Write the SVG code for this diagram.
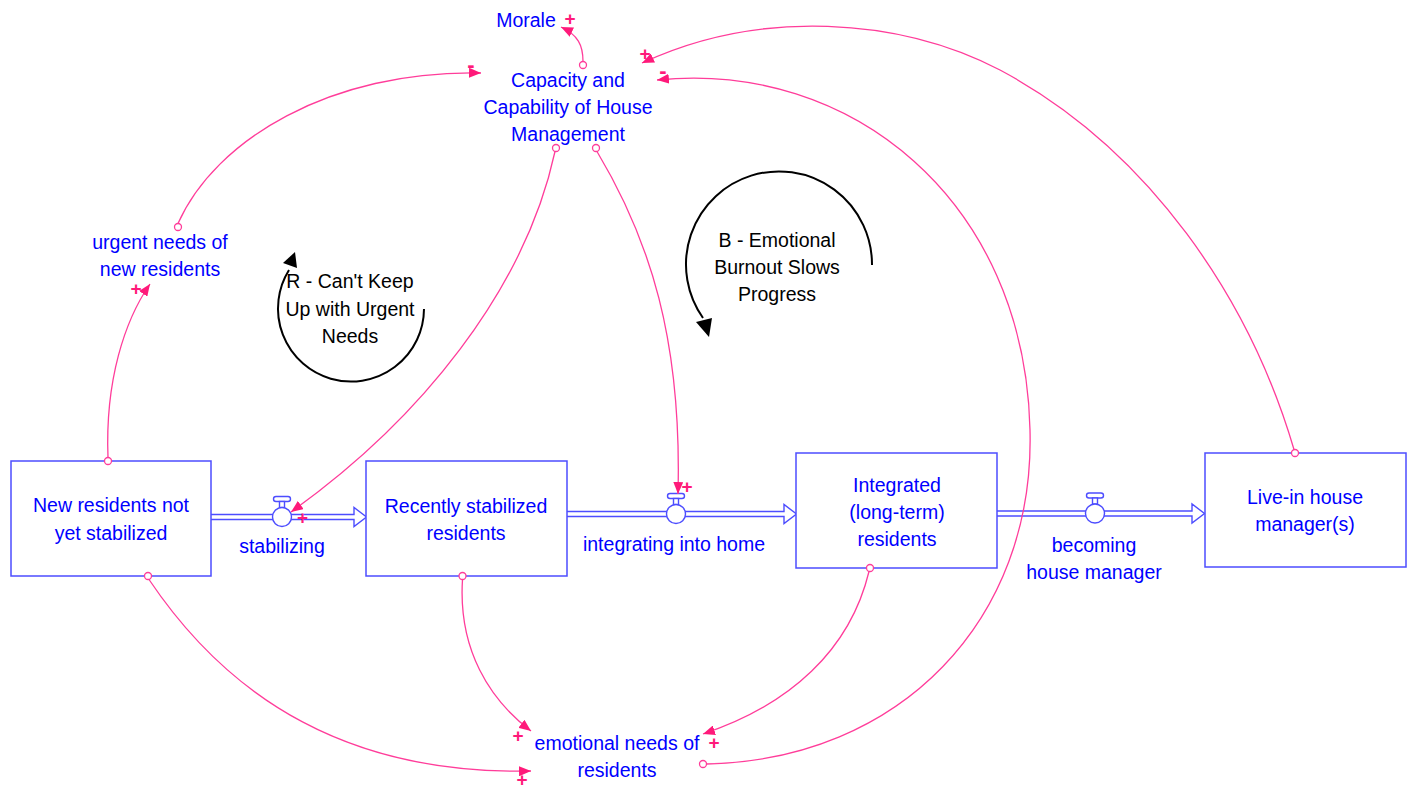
<svg xmlns="http://www.w3.org/2000/svg" xmlns:xlink="http://www.w3.org/1999/xlink" width="1412" height="788" viewBox="0 0 1412 788">
  <style>
    .lbl { font-family: "Liberation Sans", Arial, sans-serif; font-size: 19.5px; fill: #0000ff; text-anchor: middle; }
    .loop { font-family: "Liberation Sans", Arial, sans-serif; font-size: 19.5px; fill: #000000; text-anchor: middle; }
    .pol { font-family: "Liberation Sans", Arial, sans-serif; font-size: 19px; font-weight: bold; fill: #ff1a7a; text-anchor: middle; }
    .neg { font-size: 22px; }
    .stock { fill: #ffffff; stroke: #4d4dff; stroke-width: 1.5; }
    .pipe { fill: #ffffff; stroke: #4d4dff; stroke-width: 1.4; }
    .link { fill: none; stroke: #ff3d9a; stroke-width: 1.3; marker-end: url(#arrow); }
    .origin { fill: #ffffff; stroke: #ff3d9a; stroke-width: 1.3; }
    .loopArc { fill: none; stroke: #000000; stroke-width: 2; }
  </style>
  <defs>
    <marker id="arrow" viewBox="0 0 12 10" refX="12" refY="5" markerWidth="12" markerHeight="10" markerUnits="userSpaceOnUse" orient="auto">
      <path d="M0,0 L12,5 L0,10 z" fill="#ff1a7a"/>
    </marker>
    <!-- flow valve: circle centred on the pipe with a handle on top -->
    <g id="valve">
      <rect x="-8.5" y="-20.5" width="17" height="5" rx="2.5" fill="#ffffff" stroke="#4d4dff" stroke-width="1.4"/>
      <rect x="-2.5" y="-15.5" width="5" height="6" fill="#ffffff" stroke="#4d4dff" stroke-width="1.4"/>
      <circle cx="0" cy="0" r="9.5" fill="#ffffff" stroke="#4d4dff" stroke-width="1.4"/>
    </g>
  </defs>

  <rect width="1412" height="788" fill="#ffffff"/>

  <!-- flows (pipes with valves) -->
  <g id="flow-stabilizing">
    <path class="pipe" d="M211,514.5 H354 V507.5 L366.5,517 L354,526.5 V519.5 H211"/>
    <use xlink:href="#valve" x="282" y="517"/>
    <text class="lbl" x="282" y="553">stabilizing</text>
  </g>
  <g id="flow-integrating">
    <path class="pipe" d="M567,511.5 H784 V504.5 L796.5,514 L784,523.5 V516.5 H567"/>
    <use xlink:href="#valve" x="676" y="514"/>
    <text class="lbl" x="674" y="551">integrating into home</text>
  </g>
  <g id="flow-becoming">
    <path class="pipe" d="M997,511 H1192 V504 L1204.5,513.5 L1192,523 V516 H997"/>
    <use xlink:href="#valve" x="1095" y="513.5"/>
    <text class="lbl" x="1094" y="552">becoming</text>
    <text class="lbl" x="1094" y="579">house manager</text>
  </g>

  <!-- stocks -->
  <g id="stock-new">
    <rect class="stock" x="11" y="461" width="200" height="115"/>
    <text class="lbl" x="111" y="512">New residents not</text>
    <text class="lbl" x="111" y="540">yet stabilized</text>
  </g>
  <g id="stock-recent">
    <rect class="stock" x="366" y="461" width="201" height="115"/>
    <text class="lbl" x="466" y="513">Recently stabilized</text>
    <text class="lbl" x="466" y="540">residents</text>
  </g>
  <g id="stock-integrated">
    <rect class="stock" x="796" y="453" width="201" height="115"/>
    <text class="lbl" x="897" y="492">Integrated</text>
    <text class="lbl" x="897" y="519">(long-term)</text>
    <text class="lbl" x="897" y="546">residents</text>
  </g>
  <g id="stock-livein">
    <rect class="stock" x="1205" y="453" width="201" height="114"/>
    <text class="lbl" x="1305" y="504">Live-in house</text>
    <text class="lbl" x="1305" y="531">manager(s)</text>
  </g>

  <!-- auxiliary variables -->
  <g id="var-morale">
    <text class="lbl" x="526" y="27">Morale</text>
  </g>
  <g id="var-capacity">
    <text class="lbl" x="568" y="87">Capacity and</text>
    <text class="lbl" x="568" y="114">Capability of House</text>
    <text class="lbl" x="568" y="141">Management</text>
  </g>
  <g id="var-urgent">
    <text class="lbl" x="160" y="249">urgent needs of</text>
    <text class="lbl" x="160" y="276">new residents</text>
  </g>
  <g id="var-emotional">
    <text class="lbl" x="617" y="750">emotional needs of</text>
    <text class="lbl" x="617" y="777">residents</text>
  </g>

  <!-- loop markers -->
  <g id="loop-R">
    <path class="loopArc" d="M424,309 A73,73 0 1 1 289,270"/>
    <polygon points="295,252 283,263 297,268" fill="#000000"/>
    <text class="loop" x="350" y="288">R - Can't Keep</text>
    <text class="loop" x="350" y="316">Up with Urgent</text>
    <text class="loop" x="350" y="343">Needs</text>
  </g>
  <g id="loop-B">
    <path class="loopArc" d="M872,265 A93,93 0 1 0 703,318"/>
    <polygon points="709,337 696,322 712,318" fill="#000000"/>
    <text class="loop" x="777" y="247">B - Emotional</text>
    <text class="loop" x="777" y="274">Burnout Slows</text>
    <text class="loop" x="777" y="301">Progress</text>
  </g>

  <!-- causal links -->
  <g id="connectors">
    <path class="link" d="M583,61.5 C583,45 578,35 561,27"/>
    <path class="link" d="M178,223.5 C215,140 330,70 481,73"/>
    <path class="link" d="M108,457.5 C105,380 125,320 150,284"/>
    <path class="link" d="M555,151.5 C525,290 420,420 291,512"/>
    <path class="link" d="M597,151.5 C650,240 682,340 678,494"/>
    <path class="link" d="M1294,449.5 C1250,300 1150,150 1000,70 C900,18 760,8 642,63"/>
    <path class="link" d="M706.5,764 C900,760 1035,620 1030,430 C1025,200 850,60 657,80"/>
    <path class="link" d="M462.5,579.5 C458,650 490,700 531,731"/>
    <path class="link" d="M869,571.5 C850,650 790,705 703,734"/>
    <path class="link" d="M149,579.5 C230,700 350,775 531,771"/>

    <circle class="origin" cx="583" cy="65" r="3.5"/>
    <circle class="origin" cx="178" cy="227" r="3.5"/>
    <circle class="origin" cx="108" cy="461" r="3.5"/>
    <circle class="origin" cx="556" cy="148" r="3.5"/>
    <circle class="origin" cx="596" cy="148" r="3.5"/>
    <circle class="origin" cx="1295" cy="453" r="3.5"/>
    <circle class="origin" cx="703" cy="764" r="3.5"/>
    <circle class="origin" cx="462.5" cy="576" r="3.5"/>
    <circle class="origin" cx="870" cy="568" r="3.5"/>
    <circle class="origin" cx="148" cy="576" r="3.5"/>

    <!-- polarities -->
    <text class="pol" x="570" y="25">+</text>
    <text class="pol neg" x="471" y="72">-</text>
    <text class="pol" x="645" y="59.5">+</text>
    <text class="pol neg" x="663" y="78">-</text>
    <text class="pol" x="136" y="295">+</text>
    <text class="pol" x="302.5" y="524">+</text>
    <text class="pol" x="687" y="492.5">+</text>
    <text class="pol" x="518" y="742">+</text>
    <text class="pol" x="714" y="748.5">+</text>
    <text class="pol" x="522" y="786">+</text>
  </g>
</svg>
